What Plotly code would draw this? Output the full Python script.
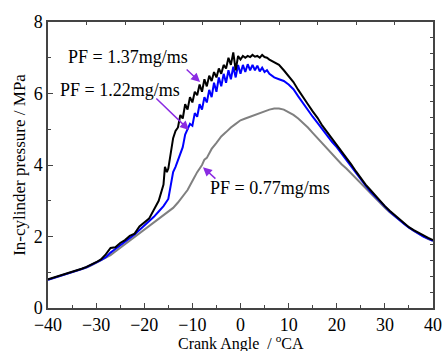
import plotly.graph_objects as go

# Black: PF = 1.37 mg/ms
x137 = [-40, -39, -38, -37, -36, -35, -34, -33, -32, -31, -30, -29, -28, -27, -26, -25, -24, -23, -22, -21,
        -20, -19, -18, -17, -16, -15.7, -15.3, -15, -14, -13.5, -13, -12.5, -12, -11.5, -11, -10.5, -10,
        -9.5, -9, -8.5, -8, -7.5, -7, -6.5, -6, -5.5, -5, -4.5, -4, -3.5, -3, -2.5, -2, -1.5, -1, -0.5,
        0, 0.5, 1, 1.5, 2, 2.5, 3, 3.5, 4, 4.5, 5, 5.5, 6, 7, 8, 9, 10, 11, 12, 13, 14, 15, 16, 17, 18,
        19, 20, 21, 22, 23, 24, 25, 26, 27, 28, 29, 30, 31, 32, 33, 34, 35, 36, 37, 38, 39, 40]
y137 = [0.80, 0.84, 0.88, 0.92, 0.96, 1.00, 1.05, 1.10, 1.15, 1.21, 1.28, 1.36, 1.50, 1.68, 1.70, 1.82,
        1.90, 2.02, 2.08, 2.28, 2.38, 2.50, 2.75, 3.00, 3.45, 3.95, 3.80, 3.90, 4.75, 4.95, 5.05, 5.40,
        5.30, 5.70, 5.55, 5.90, 5.75, 6.05, 5.95, 6.25, 6.05, 6.40, 6.20, 6.50, 6.35, 6.60, 6.45, 6.70,
        6.55, 6.80, 6.70, 7.00, 6.80, 7.15, 6.65, 7.05, 6.95, 7.05, 7.00, 7.05, 7.02, 7.08, 7.03, 7.05,
        7.00, 7.08, 7.02, 7.00, 6.95, 6.88, 6.80, 6.65, 6.50, 6.32, 6.10, 5.88, 5.70, 5.50, 5.32, 5.10,
        4.92, 4.75, 4.58, 4.40, 4.20, 4.02, 3.82, 3.62, 3.45, 3.30, 3.15, 2.98, 2.85, 2.72, 2.60, 2.48,
        2.37, 2.26, 2.18, 2.10, 2.02, 1.96, 1.90]

# Blue: PF = 1.22 mg/ms
x122 = [-40, -39, -38, -37, -36, -35, -34, -33, -32, -31, -30, -29, -28, -27, -26, -25, -24, -23, -22, -21,
        -20, -19, -18, -17, -16, -15, -14.5, -14, -13.5, -13, -12.5, -12, -11.5, -11, -10.5, -10, -9.5,
        -9, -8.5, -8, -7.5, -7, -6.5, -6, -5.5, -5, -4.5, -4, -3.5, -3, -2.5, -2, -1.5, -1, -0.5, 0, 0.5,
        1, 1.5, 2, 2.5, 3, 3.5, 4, 4.5, 5, 5.5, 6, 7, 8, 9, 10, 11, 12, 13, 14, 15, 16, 17, 18, 19, 20,
        21, 22, 23, 24, 25, 26, 27, 28, 29, 30, 31, 32, 33, 34, 35, 36, 37, 38, 39, 40]
y122 = [0.79, 0.83, 0.87, 0.91, 0.95, 0.99, 1.04, 1.09, 1.14, 1.20, 1.27, 1.34, 1.42, 1.55, 1.65, 1.75,
        1.85, 1.96, 2.06, 2.18, 2.30, 2.42, 2.55, 2.70, 2.85, 3.05, 3.40, 3.80, 3.95, 4.15, 4.35, 4.50,
        4.85, 5.00, 5.15, 5.10, 5.45, 5.35, 5.70, 5.55, 5.90, 5.75, 6.10, 5.90, 6.30, 6.05, 6.45, 6.20,
        6.55, 6.30, 6.65, 6.40, 6.75, 6.45, 6.80, 6.55, 6.80, 6.60, 6.82, 6.65, 6.80, 6.65, 6.78, 6.62,
        6.72, 6.60, 6.65, 6.55, 6.45, 6.40, 6.35, 6.25, 6.12, 5.92, 5.72, 5.52, 5.35, 5.18, 5.00, 4.82,
        4.65, 4.50, 4.32, 4.14, 3.96, 3.78, 3.58, 3.42, 3.26, 3.12, 2.96, 2.82, 2.70, 2.58, 2.46, 2.35,
        2.25, 2.16, 2.08, 2.00, 1.94, 1.88]

# Gray: PF = 0.77 mg/ms
x077 = [-40, -39, -38, -37, -36, -35, -34, -33, -32, -31, -30, -29, -28, -27, -26, -25, -24, -23, -22, -21,
        -20, -19, -18, -17, -16, -15, -14, -13, -12, -11, -10, -9, -8, -7.5, -7, -6, -5, -4, -3, -2, -1,
        0, 1, 2, 3, 4, 5, 6, 7, 8, 9, 10, 11, 12, 13, 14, 15, 16, 17, 18, 19, 20, 21, 22, 23, 24, 25, 26,
        27, 28, 29, 30, 31, 32, 33, 34, 35, 36, 37, 38, 39, 40]
y077 = [0.79, 0.83, 0.87, 0.91, 0.95, 0.99, 1.03, 1.08, 1.13, 1.19, 1.26, 1.32, 1.40, 1.48, 1.58, 1.68,
        1.78, 1.88, 1.98, 2.08, 2.18, 2.28, 2.38, 2.48, 2.58, 2.68, 2.80, 2.95, 3.12, 3.30, 3.55, 3.80,
        4.00, 4.15, 4.20, 4.45, 4.62, 4.80, 4.92, 5.05, 5.15, 5.25, 5.30, 5.35, 5.42, 5.45, 5.50, 5.55,
        5.58, 5.58, 5.55, 5.48, 5.40, 5.30, 5.18, 5.05, 4.90, 4.75, 4.60, 4.45, 4.30, 4.15, 4.02, 3.90,
        3.76, 3.62, 3.48, 3.34, 3.20, 3.06, 2.92, 2.80, 2.68, 2.57, 2.46, 2.35, 2.25, 2.16, 2.08, 2.00,
        1.93, 1.88]

labels = ["PF = 1.37mg/ms", "PF = 1.22mg/ms", "PF = 0.77mg/ms"]
label_pos = [(-23.4, 7.02), (-25.0, 6.10), (6.1, 3.36)]
arrow_tail = [(-11.5, 6.71), (-17.8, 5.90), (-4.9, 3.58)]
arrow_head = [(-8.4, 6.32), (-10.7, 4.98), (-7.8, 3.94)]

FONT = "Liberation Serif"
AXC = "#444444"

fig = go.Figure()
fig.add_trace(go.Scatter(x=x077, y=y077, mode="lines", line=dict(color="#808080", width=2), showlegend=False))
fig.add_trace(go.Scatter(x=x122, y=y122, mode="lines", line=dict(color="#0000ff", width=2), showlegend=False))
fig.add_trace(go.Scatter(x=x137, y=y137, mode="lines", line=dict(color="#000000", width=2), showlegend=False))
# invisible trace for mirrored top/right axes
fig.add_trace(go.Scatter(x=[-40], y=[0], xaxis="x2", yaxis="y2", mode="markers",
                         marker=dict(opacity=0), showlegend=False, hoverinfo="skip"))

for t, (lx, ly) in zip(labels, label_pos):
    fig.add_annotation(x=lx, y=ly, text=t, showarrow=False, font=dict(family=FONT, size=18, color="black"))
for (tx, ty), (hx, hy) in zip(arrow_tail, arrow_head):
    fig.add_annotation(x=hx, y=hy, ax=tx, ay=ty, xref="x", yref="y", axref="x", ayref="y",
                       text="", showarrow=True, arrowhead=2, arrowsize=1.2, arrowwidth=1.5,
                       arrowcolor="#8a2be2")

# x-axis title placed as paper annotation
fig.add_annotation(x=0.5, y=0, xref="paper", yref="paper", yanchor="bottom", yshift=-46,
                   borderpad=0, text="Crank Angle  / <sup>o</sup>CA", showarrow=False,
                   font=dict(family=FONT, size=16, color="black"))

fig.update_layout(
    width=445, height=351,
    margin=dict(l=48, r=12, t=22, b=43),
    paper_bgcolor="white", plot_bgcolor="white",
    font=dict(family=FONT, size=17, color="black"),
    xaxis=dict(range=[-40, 40], dtick=10, tick0=-40, ticks="inside", ticklen=5, tickwidth=1.2,
               tickcolor=AXC, showline=True, linecolor=AXC, linewidth=1.5, showgrid=False, zeroline=False,
               minor=dict(dtick=5, ticks="inside", ticklen=3, tickcolor=AXC),
               tickfont=dict(family=FONT, size=18), automargin=False),
    yaxis=dict(range=[0, 8], dtick=2, ticks="inside", ticklen=5, tickwidth=1.2, tickcolor=AXC,
               showline=True, linecolor=AXC, linewidth=1.5, showgrid=False, zeroline=False,
               minor=dict(dtick=1, ticks="inside", ticklen=3, tickcolor=AXC),
               tickfont=dict(family=FONT, size=18), automargin=False,
               title=dict(text="In-cylinder pressure / MPa", font=dict(family=FONT, size=17), standoff=4)),
    xaxis2=dict(overlaying="x", side="top", range=[-40, 40], dtick=8, tick0=-40, ticks="inside",
                ticklen=3, tickcolor=AXC, showline=True, linecolor=AXC, linewidth=1.5,
                showticklabels=False, showgrid=False, zeroline=False, anchor="y", automargin=False),
    yaxis2=dict(overlaying="y", side="right", range=[0, 8], dtick=8 / 18, tick0=0, ticks="inside",
                ticklen=3, tickcolor=AXC, showline=True, linecolor=AXC, linewidth=1.5,
                showticklabels=False, showgrid=False, zeroline=False, anchor="x", automargin=False),
)

fig.write_html("out.html")
